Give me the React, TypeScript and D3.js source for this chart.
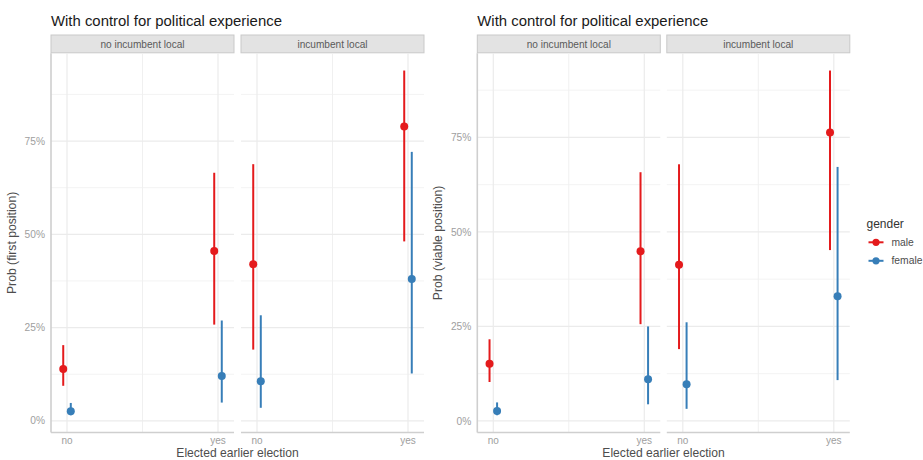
import React from "react";
import * as d3 from "d3";

// Categories
const PANELS = ["no incumbent local", "incumbent local"];
const EARLIER = ["no", "yes"];
const GENDERS = ["male", "female"];
const GENDER_COLORS = ["#E41A1C", "#377EB8"];
const Y_TICKS = [0, 0.25, 0.5, 0.75];
const Y_MINOR = [0.125, 0.375, 0.625, 0.875];

// Estimates, order: [no incumbent/no, no incumbent/yes, incumbent/no, incumbent/yes]
const firstMaleEst = [0.139, 0.455, 0.42, 0.789];
const firstMaleLo = [0.094, 0.258, 0.191, 0.481];
const firstMaleHi = [0.203, 0.665, 0.688, 0.939];
const firstFemaleEst = [0.026, 0.12, 0.106, 0.38];
const firstFemaleLo = [0.015, 0.049, 0.035, 0.127];
const firstFemaleHi = [0.048, 0.269, 0.283, 0.721];

const viableMaleEst = [0.151, 0.449, 0.413, 0.763];
const viableMaleLo = [0.103, 0.256, 0.19, 0.452];
const viableMaleHi = [0.216, 0.658, 0.679, 0.927];
const viableFemaleEst = [0.026, 0.11, 0.097, 0.33];
const viableFemaleLo = [0.015, 0.044, 0.032, 0.108];
const viableFemaleHi = [0.049, 0.25, 0.261, 0.672];

type Row = { panel: number; earlier: number; gender: number; est: number; lo: number; hi: number };

function buildRows(series: number[][][]): Row[] {
  const rows: Row[] = [];
  series.forEach(([est, lo, hi], g) => {
    est.forEach((v, i) => {
      rows.push({ panel: Math.floor(i / 2), earlier: i % 2, gender: g, est: v, lo: lo[i], hi: hi[i] });
    });
  });
  return rows;
}

const FONT = "'Liberation Sans', Arial, Helvetica, sans-serif";

type PlotProps = { x0: number; panelW: number; gap: number; yTitle: string; rows: Row[] };

function FacetPlot({ x0, panelW, gap, yTitle, rows }: PlotProps) {
  const top = 53.3;
  const bottom = 432.5;
  const stripTop = 35;
  const lo = d3.min(rows, (r) => r.lo) as number;
  const hi = d3.max(rows, (r) => r.hi) as number;
  const pad = (hi - lo) * 0.05;
  const y = d3.scaleLinear().domain([lo - pad, hi + pad]).range([bottom, top]);
  const x = d3.scalePoint<string>().domain(EARLIER).range([0, panelW]).padding(0.106);
  const step = x.step();
  const dodge = 0.025 * step;
  const pct = d3.format(".0%");

  return (
    <g fontFamily={FONT}>
      <text x={x0} y={26} fontSize={14.9} fill="#1a1a1a">
        With control for political experience
      </text>
      <text
        transform={`translate(${x0 - 35},${(top + bottom) / 2}) rotate(-90)`}
        textAnchor="middle"
        fontSize={12.2}
        fill="#4d4d4d"
      >
        {yTitle}
      </text>
      {Y_TICKS.map((t) => (
        <text key={t} x={x0 - 6} y={y(t) + 3.6} textAnchor="end" fontSize={10.2} fill="#9e9e9e">
          {pct(t)}
        </text>
      ))}
      {PANELS.map((p, pi) => {
        const px = x0 + pi * (panelW + gap);
        const pr = rows.filter((r) => r.panel === pi);
        return (
          <g key={p} transform={`translate(${px},0)`}>
            <rect x={0} y={stripTop} width={panelW} height={top - stripTop - 0.5} fill="#e3e3e3" stroke="#c9c9c9" strokeWidth={1} />
            <text x={panelW / 2} y={(stripTop + top) / 2 + 3.4} textAnchor="middle" fontSize={10.1} fill="#5a5a5a">
              {p}
            </text>
            {Y_MINOR.filter((t) => y(t) > top && y(t) < bottom).map((t) => (
              <line key={t} x1={0} x2={panelW} y1={y(t)} y2={y(t)} stroke="#f3f3f3" strokeWidth={1} />
            ))}
            <line x1={(x("no")! + x("yes")!) / 2} x2={(x("no")! + x("yes")!) / 2} y1={top} y2={bottom} stroke="#f0f0f0" strokeWidth={1} />
            {Y_TICKS.map((t) => (
              <line key={t} x1={0} x2={panelW} y1={y(t)} y2={y(t)} stroke="#ebebeb" strokeWidth={1.2} />
            ))}
            {EARLIER.map((e) => (
              <line key={e} x1={x(e)} x2={x(e)} y1={top} y2={bottom} stroke="#ebebeb" strokeWidth={1.2} />
            ))}
            <line x1={0} x2={panelW} y1={bottom} y2={bottom} stroke="#cfcfcf" strokeWidth={1.6} />
            {pi === 0 && <line x1={0} x2={0} y1={top} y2={bottom} stroke="#cfcfcf" strokeWidth={1.6} />}
            {EARLIER.map((e) => (
              <text key={e} x={x(e)} y={bottom + 11.5} textAnchor="middle" fontSize={10} fill="#9e9e9e">
                {e}
              </text>
            ))}
            {pr.map((r, i) => {
              const cx = x(EARLIER[r.earlier])! + (r.gender === 0 ? -dodge : dodge);
              const c = GENDER_COLORS[r.gender];
              return (
                <g key={i}>
                  <line x1={cx} x2={cx} y1={y(r.lo)} y2={y(r.hi)} stroke={c} strokeWidth={2} />
                  <circle cx={cx} cy={y(r.est)} r={4} fill={c} />
                </g>
              );
            })}
          </g>
        );
      })}
      <text x={x0 + panelW + gap / 2} y={457.4} textAnchor="middle" fontSize={12.1} fill="#4d4d4d">
        Elected earlier election
      </text>
    </g>
  );
}

export default function App() {
  const firstRows = buildRows([
    [firstMaleEst, firstMaleLo, firstMaleHi],
    [firstFemaleEst, firstFemaleLo, firstFemaleHi],
  ]);
  const viableRows = buildRows([
    [viableMaleEst, viableMaleLo, viableMaleHi],
    [viableFemaleEst, viableFemaleLo, viableFemaleHi],
  ]);
  return (
    <svg
      width={923}
      height={460}
      style={{ position: "absolute", left: 0, top: 0, background: "#fff" }}
    >
      <rect width={923} height={460} fill="#fff" />
      <FacetPlot x0={51} panelW={183} gap={7} yTitle="Prob (first position)" rows={firstRows} />
      <FacetPlot x0={477.3} panelW={183} gap={6.5} yTitle="Prob (viable position)" rows={viableRows} />
      <g fontFamily={FONT}>
        <text x={866.5} y={228} fontSize={12} fill="#333">
          gender
        </text>
        {GENDERS.map((g, i) => (
          <g key={g} transform={`translate(0,${242.3 + i * 18.5})`}>
            <line x1={868.5} x2={883.5} y1={0} y2={0} stroke={GENDER_COLORS[i]} strokeWidth={2} />
            <circle cx={876} cy={0} r={3.6} fill={GENDER_COLORS[i]} />
            <text x={891.5} y={3.5} fontSize={10.3} fill="#4d4d4d">
              {g}
            </text>
          </g>
        ))}
      </g>
    </svg>
  );
}
